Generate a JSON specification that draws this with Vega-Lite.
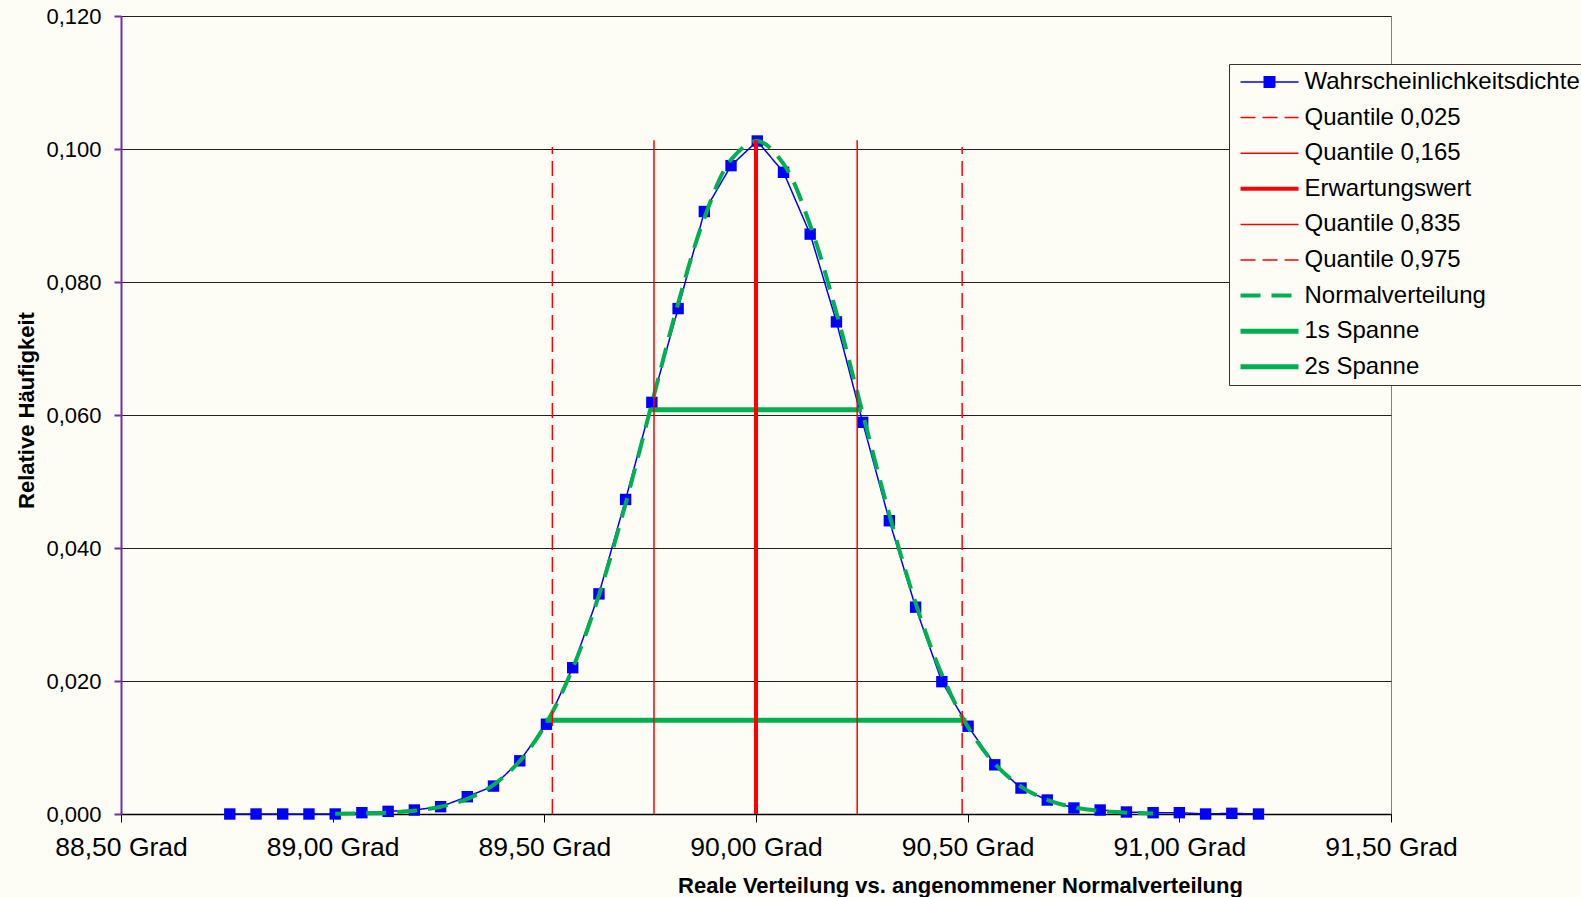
{
  "$schema": "https://vega.github.io/schema/vega-lite/v6.json",
  "autosize": {"type": "none"},
  "width": 1270,
  "height": 798,
  "padding": {"left": 121, "top": 16, "right": 190, "bottom": 83},
  "background": "#fdfdf6",
  "datasets": {
    "dichte": [
      {"series": "Wahrscheinlichkeitsdichte", "x": 88.757, "y": 0.0000},
      {"series": "Wahrscheinlichkeitsdichte", "x": 88.819, "y": 0.0000},
      {"series": "Wahrscheinlichkeitsdichte", "x": 88.882, "y": 0.0000},
      {"series": "Wahrscheinlichkeitsdichte", "x": 88.944, "y": 0.0000},
      {"series": "Wahrscheinlichkeitsdichte", "x": 89.006, "y": 0.0000},
      {"series": "Wahrscheinlichkeitsdichte", "x": 89.069, "y": 0.0002},
      {"series": "Wahrscheinlichkeitsdichte", "x": 89.131, "y": 0.0004},
      {"series": "Wahrscheinlichkeitsdichte", "x": 89.193, "y": 0.0006},
      {"series": "Wahrscheinlichkeitsdichte", "x": 89.255, "y": 0.0011},
      {"series": "Wahrscheinlichkeitsdichte", "x": 89.318, "y": 0.0026},
      {"series": "Wahrscheinlichkeitsdichte", "x": 89.380, "y": 0.0042},
      {"series": "Wahrscheinlichkeitsdichte", "x": 89.442, "y": 0.0080},
      {"series": "Wahrscheinlichkeitsdichte", "x": 89.505, "y": 0.0135},
      {"series": "Wahrscheinlichkeitsdichte", "x": 89.567, "y": 0.0220},
      {"series": "Wahrscheinlichkeitsdichte", "x": 89.629, "y": 0.0331},
      {"series": "Wahrscheinlichkeitsdichte", "x": 89.692, "y": 0.0473},
      {"series": "Wahrscheinlichkeitsdichte", "x": 89.754, "y": 0.0619},
      {"series": "Wahrscheinlichkeitsdichte", "x": 89.816, "y": 0.0760},
      {"series": "Wahrscheinlichkeitsdichte", "x": 89.878, "y": 0.0906},
      {"series": "Wahrscheinlichkeitsdichte", "x": 89.941, "y": 0.0975},
      {"series": "Wahrscheinlichkeitsdichte", "x": 90.003, "y": 0.1012},
      {"series": "Wahrscheinlichkeitsdichte", "x": 90.065, "y": 0.0965},
      {"series": "Wahrscheinlichkeitsdichte", "x": 90.128, "y": 0.0872},
      {"series": "Wahrscheinlichkeitsdichte", "x": 90.190, "y": 0.0740},
      {"series": "Wahrscheinlichkeitsdichte", "x": 90.252, "y": 0.0589},
      {"series": "Wahrscheinlichkeitsdichte", "x": 90.315, "y": 0.0441},
      {"series": "Wahrscheinlichkeitsdichte", "x": 90.377, "y": 0.0311},
      {"series": "Wahrscheinlichkeitsdichte", "x": 90.439, "y": 0.0199},
      {"series": "Wahrscheinlichkeitsdichte", "x": 90.501, "y": 0.0132},
      {"series": "Wahrscheinlichkeitsdichte", "x": 90.564, "y": 0.0074},
      {"series": "Wahrscheinlichkeitsdichte", "x": 90.626, "y": 0.0039},
      {"series": "Wahrscheinlichkeitsdichte", "x": 90.688, "y": 0.0021},
      {"series": "Wahrscheinlichkeitsdichte", "x": 90.751, "y": 0.0009},
      {"series": "Wahrscheinlichkeitsdichte", "x": 90.813, "y": 0.0006},
      {"series": "Wahrscheinlichkeitsdichte", "x": 90.875, "y": 0.0003},
      {"series": "Wahrscheinlichkeitsdichte", "x": 90.938, "y": 0.0002},
      {"series": "Wahrscheinlichkeitsdichte", "x": 91.000, "y": 0.0002},
      {"series": "Wahrscheinlichkeitsdichte", "x": 91.062, "y": 0.0000},
      {"series": "Wahrscheinlichkeitsdichte", "x": 91.124, "y": 0.0001},
      {"series": "Wahrscheinlichkeitsdichte", "x": 91.187, "y": 0.0000}
    ],
    "normal": [
      {"series": "Normalverteilung", "x": 89.006, "y": 0.00003},
      {"series": "Normalverteilung", "x": 89.069, "y": 0.00009},
      {"series": "Normalverteilung", "x": 89.131, "y": 0.00021},
      {"series": "Normalverteilung", "x": 89.193, "y": 0.00050},
      {"series": "Normalverteilung", "x": 89.255, "y": 0.00109},
      {"series": "Normalverteilung", "x": 89.318, "y": 0.00227},
      {"series": "Normalverteilung", "x": 89.380, "y": 0.00439},
      {"series": "Normalverteilung", "x": 89.442, "y": 0.00797},
      {"series": "Normalverteilung", "x": 89.505, "y": 0.01370},
      {"series": "Normalverteilung", "x": 89.567, "y": 0.02190},
      {"series": "Normalverteilung", "x": 89.629, "y": 0.03291},
      {"series": "Normalverteilung", "x": 89.692, "y": 0.04666},
      {"series": "Normalverteilung", "x": 89.754, "y": 0.06175},
      {"series": "Normalverteilung", "x": 89.816, "y": 0.07676},
      {"series": "Normalverteilung", "x": 89.878, "y": 0.08962},
      {"series": "Normalverteilung", "x": 89.941, "y": 0.09837},
      {"series": "Normalverteilung", "x": 90.003, "y": 0.10119},
      {"series": "Normalverteilung", "x": 90.065, "y": 0.09777},
      {"series": "Normalverteilung", "x": 90.128, "y": 0.08853},
      {"series": "Normalverteilung", "x": 90.190, "y": 0.07537},
      {"series": "Normalverteilung", "x": 90.252, "y": 0.06026},
      {"series": "Normalverteilung", "x": 90.315, "y": 0.04502},
      {"series": "Normalverteilung", "x": 90.377, "y": 0.03172},
      {"series": "Normalverteilung", "x": 90.439, "y": 0.02099},
      {"series": "Normalverteilung", "x": 90.501, "y": 0.01304},
      {"series": "Normalverteilung", "x": 90.564, "y": 0.00754},
      {"series": "Normalverteilung", "x": 90.626, "y": 0.00413},
      {"series": "Normalverteilung", "x": 90.688, "y": 0.00212},
      {"series": "Normalverteilung", "x": 90.751, "y": 0.00101},
      {"series": "Normalverteilung", "x": 90.813, "y": 0.00046},
      {"series": "Normalverteilung", "x": 90.875, "y": 0.00020},
      {"series": "Normalverteilung", "x": 90.938, "y": 0.00008}
    ],
    "spannen": [
      {"series": "1s Spanne", "x": 89.751, "y": 0.0608},
      {"series": "1s Spanne", "x": 90.250, "y": 0.0608},
      {"series": "2s Spanne", "x": 89.503, "y": 0.0141},
      {"series": "2s Spanne", "x": 90.497, "y": 0.0141}
    ],
    "quantile": [
      {"series": "Quantile 0,025", "x": 89.519, "y": 0},
      {"series": "Quantile 0,025", "x": 89.519, "y": 0.1003},
      {"series": "Quantile 0,165", "x": 89.759, "y": 0},
      {"series": "Quantile 0,165", "x": 89.759, "y": 0.1013},
      {"series": "Quantile 0,835", "x": 90.239, "y": 0},
      {"series": "Quantile 0,835", "x": 90.239, "y": 0.1013},
      {"series": "Quantile 0,975", "x": 90.487, "y": 0},
      {"series": "Quantile 0,975", "x": 90.487, "y": 0.1003}
    ],
    "mittel": [
      {"series": "Erwartungswert", "x": 90.0, "y": 0},
      {"series": "Erwartungswert", "x": 90.0, "y": 0.1013}
    ]
  },
  "encoding": {
    "x": {
      "field": "x", "type": "quantitative",
      "scale": {"domain": [88.5, 91.5], "nice": false, "zero": false},
      "axis": {
        "values": [88.5, 89, 89.5, 90, 90.5, 91, 91.5],
        "labelExpr": "replace(format(datum.value, '.2f'), '.', ',') + ' Grad'",
        "labelFont": "Liberation Sans", "labelFontSize": 26.5, "labelColor": "#000000",
        "labelPadding": 12, "labelFlush": false, "labelOverlap": false,
        "tickSize": 8, "tickColor": "#000000", "tickWidth": 1,
        "domainColor": "#000000", "domainWidth": 1.5,
        "grid": false,
        "title": "Reale Verteilung vs. angenommener Normalverteilung",
        "titleFont": "Liberation Sans", "titleFontSize": 22, "titleFontWeight": "bold", "titleColor": "#000000",
        "titleX": 839, "titleY": 78, "titleBaseline": "alphabetic", "titleAlign": "center"
      }
    },
    "y": {
      "field": "y", "type": "quantitative",
      "scale": {"domain": [0, 0.12], "nice": false, "zero": true},
      "axis": {
        "values": [0, 0.02, 0.04, 0.06, 0.08, 0.1, 0.12],
        "labelExpr": "replace(format(datum.value, '.3f'), '.', ',')",
        "labelFont": "Liberation Sans", "labelFontSize": 22, "labelColor": "#000000",
        "labelPadding": 13, "labelOverlap": false,
        "tickSize": 7, "tickColor": "#7030A0", "tickWidth": 2,
        "domainColor": "#7030A0", "domainWidth": 2,
        "grid": true, "gridColor": "#222222", "gridWidth": 1,
        "title": "Relative Häufigkeit",
        "titleFont": "Liberation Sans", "titleFontSize": 22, "titleFontWeight": "bold", "titleColor": "#000000",
        "titleAngle": 270, "titleX": -88, "titleY": 394, "titleBaseline": "alphabetic", "titleAlign": "center"
      }
    }
  },
  "layer": [
    {
      "data": {"name": "dichte"},
      "mark": {"type": "line", "strokeWidth": 1.5},
      "encoding": {
        "color": {
          "field": "series", "type": "nominal",
          "scale": {
            "domain": ["Wahrscheinlichkeitsdichte", "Quantile 0,025", "Quantile 0,165", "Erwartungswert", "Quantile 0,835", "Quantile 0,975", "Normalverteilung", "1s Spanne", "2s Spanne"],
            "range": ["#0000FF", "#FF0000", "#FF0000", "#FF0000", "#FF0000", "#FF0000", "#00B050", "#00B050", "#00B050"]
          },
          "legend": {
            "title": null, "orient": "none", "legendX": 1108, "legendY": 48,
            "padding": 6, "rowPadding": 11.6, "symbolSize": 100, "symbolOffset": 22.5, "labelOffset": 23,
            "labelFont": "Liberation Sans", "labelFontSize": 24, "labelColor": "#000000", "labelLimit": 600,
            "strokeColor": "#333333", "fillColor": "#fdfdf6",
            "encode": {
              "symbols": {
                "update": {
                  "shape": {"signal": "datum.value === 'Wahrscheinlichkeitsdichte' ? 'M-5.8,0H5.8M-1.05,-1.05H1.05V1.05H-1.05Z' : 'M-5.8,0H5.8'"},
                  "fill": {"signal": "datum.value === 'Wahrscheinlichkeitsdichte' ? '#0000FF' : 'transparent'"},
                  "strokeWidth": {"signal": "(datum.value === 'Erwartungswert' || datum.value === 'Normalverteilung') ? 4 : (datum.value === '1s Spanne' || datum.value === '2s Spanne') ? 5 : 1.5"}
                }
              }
            }
          }
        },
        "strokeDash": {
          "field": "series", "type": "nominal",
          "scale": {
            "domain": ["Wahrscheinlichkeitsdichte", "Quantile 0,025", "Quantile 0,165", "Erwartungswert", "Quantile 0,835", "Quantile 0,975", "Normalverteilung", "1s Spanne", "2s Spanne"],
            "range": [[1, 0], [15, 7], [1, 0], [1, 0], [1, 0], [15, 7], [20, 11], [1, 0], [1, 0]]
          },
          "legend": {
            "title": null, "orient": "none", "legendX": 1108, "legendY": 48,
            "padding": 6, "rowPadding": 11.6, "symbolSize": 100, "symbolOffset": 22.5, "labelOffset": 23,
            "labelFont": "Liberation Sans", "labelFontSize": 24, "labelColor": "#000000", "labelLimit": 600,
            "strokeColor": "#333333", "fillColor": "#fdfdf6",
            "encode": {
              "symbols": {
                "update": {
                  "shape": {"signal": "datum.value === 'Wahrscheinlichkeitsdichte' ? 'M-5.8,0H5.8M-1.05,-1.05H1.05V1.05H-1.05Z' : 'M-5.8,0H5.8'"},
                  "fill": {"signal": "datum.value === 'Wahrscheinlichkeitsdichte' ? '#0000FF' : 'transparent'"},
                  "strokeWidth": {"signal": "(datum.value === 'Erwartungswert' || datum.value === 'Normalverteilung') ? 4 : (datum.value === '1s Spanne' || datum.value === '2s Spanne') ? 5 : 1.5"}
                }
              }
            }
          }
        }
      }
    },
    {
      "data": {"name": "dichte"},
      "mark": {"type": "point", "shape": "square", "filled": true, "size": 130, "color": "#0000FF", "opacity": 1}
    },
    {
      "data": {"name": "normal"},
      "mark": {"type": "line", "interpolate": "catmull-rom", "strokeWidth": 4},
      "encoding": {
        "color": {"field": "series", "type": "nominal"},
        "strokeDash": {"field": "series", "type": "nominal"}
      }
    },
    {
      "data": {"name": "spannen"},
      "mark": {"type": "line", "strokeWidth": 5},
      "encoding": {
        "color": {"field": "series", "type": "nominal"},
        "strokeDash": {"field": "series", "type": "nominal"}
      }
    },
    {
      "data": {"name": "quantile"},
      "mark": {"type": "line", "strokeWidth": 1.5},
      "encoding": {
        "color": {"field": "series", "type": "nominal"},
        "strokeDash": {"field": "series", "type": "nominal"},
        "order": {"field": "y", "type": "quantitative"}
      }
    },
    {
      "data": {"name": "mittel"},
      "mark": {"type": "line", "strokeWidth": 4},
      "encoding": {
        "color": {"field": "series", "type": "nominal"},
        "strokeDash": {"field": "series", "type": "nominal"},
        "order": {"field": "y", "type": "quantitative"}
      }
    }
  ],
  "config": {
    "font": "Liberation Sans",
    "view": {"stroke": "#808080", "strokeWidth": 1}
  }
}
